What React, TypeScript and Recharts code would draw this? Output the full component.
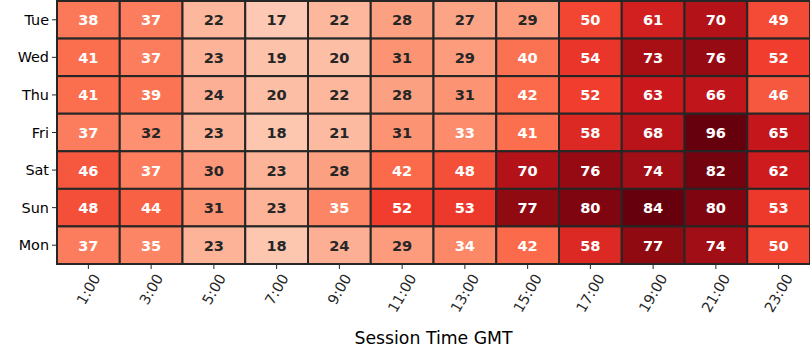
import React from 'react';
import { ScatterChart, Scatter, XAxis, YAxis } from 'recharts';

const days = ['Tue', 'Wed', 'Thu', 'Fri', 'Sat', 'Sun', 'Mon'];
const hours = ['1:00', '3:00', '5:00', '7:00', '9:00', '11:00', '13:00', '15:00', '17:00', '19:00', '21:00', '23:00'];

const tue = [38, 37, 22, 17, 22, 28, 27, 29, 50, 61, 70, 49];
const wed = [41, 37, 23, 19, 20, 31, 29, 40, 54, 73, 76, 52];
const thu = [41, 39, 24, 20, 22, 28, 31, 42, 52, 63, 66, 46];
const fri = [37, 32, 23, 18, 21, 31, 33, 41, 58, 68, 96, 65];
const sat = [46, 37, 30, 23, 28, 42, 48, 70, 76, 74, 82, 62];
const sun = [48, 44, 31, 23, 35, 52, 53, 77, 80, 84, 80, 53];
const mon = [37, 35, 23, 18, 24, 29, 34, 42, 58, 77, 74, 50];
const rows = [tue, wed, thu, fri, sat, sun, mon];

const WIDTH = 810;
const HEIGHT = 360;
const Y_AXIS_W = 57;
const X_AXIS_H = 96;
const TOP = 1;
const PLOT_W = WIDTH - Y_AXIS_W;
const PLOT_H = HEIGHT - X_AXIS_H - TOP;
const CELL_W = PLOT_W / hours.length;
const CELL_H = PLOT_H / days.length;
const FONT = '"DejaVu Sans", sans-serif';
const INK = '#262626';

// matplotlib "Reds"
const reds = ['#fff5f0', '#fee0d2', '#fcbba1', '#fc9272', '#fb6a4a', '#ef3b2c', '#cb181d', '#a50f15', '#67000d'];
const VMAX = 84;

const hex = (h: string) => [1, 3, 5].map((i) => parseInt(h.slice(i, i + 2), 16));

function cellColor(v: number) {
  const t = Math.max(0, Math.min(1, v / VMAX)) * (reds.length - 1);
  const i = Math.min(Math.floor(t), reds.length - 2);
  const f = t - i;
  const a = hex(reds[i]);
  const b = hex(reds[i + 1]);
  const c = a.map((x, k) => Math.round(x + (b[k] - x) * f));
  return `rgb(${c[0]},${c[1]},${c[2]})`;
}

const cells = rows.flatMap((vals, r) =>
  vals.map((value, c) => ({ x: c + 0.5, y: r + 0.5, value }))
);

const renderCell = (props: any) => {
  const { cx, cy, payload } = props;
  const v = payload.value;
  return (
    <g>
      <rect
        x={cx - CELL_W / 2}
        y={cy - CELL_H / 2}
        width={CELL_W}
        height={CELL_H}
        fill={cellColor(v)}
        stroke={INK}
        strokeWidth={2}
      />
      <text
        x={cx}
        y={cy}
        textAnchor="middle"
        dominantBaseline="central"
        fontFamily={FONT}
        fontWeight="bold"
        fontSize={14.6}
        fill={v >= 33 ? '#ffffff' : INK}
      >
        {v}
      </text>
    </g>
  );
};

const HourTick = (props: any) => {
  const { x, y, payload } = props;
  const label = hours[Math.floor(payload.value)];
  const len = [...label].reduce((s, ch) => s + (ch === ':' ? 4.85 : 9.16), 0);
  const h = 0.866 * len + 8.4;
  const cy = y + h / 2;
  return (
    <g transform={`translate(${x},${cy})`}>
      <text
        transform="rotate(-60)"
        textAnchor="middle"
        dominantBaseline="central"
        fontFamily={FONT}
        fontSize={14.4}
        fill={INK}
      >
        {label}
      </text>
    </g>
  );
};

export default function App() {
  return (
    <div style={{ position: 'absolute', left: 0, top: 0, width: WIDTH, height: HEIGHT, background: '#fff' }}>
      <ScatterChart width={WIDTH} height={HEIGHT} margin={{ top: TOP, right: 0, bottom: 0, left: 0 }}>
        <XAxis
          type="number"
          dataKey="x"
          domain={[0, hours.length]}
          ticks={hours.map((_, i) => i + 0.5)}
          height={X_AXIS_H}
          axisLine={false}
          tickSize={5}
          tickLine={{ stroke: INK }}
          tick={<HourTick />}
          interval={0}
          label={{
            value: 'Session Time GMT',
            position: 'insideBottom',
            offset: 16,
            style: { fontFamily: FONT, fontSize: 17.3, fill: '#000' },
          }}
        />
        <YAxis
          type="number"
          dataKey="y"
          domain={[0, days.length]}
          reversed
          ticks={days.map((_, i) => i + 0.5)}
          tickFormatter={(v: number) => days[Math.floor(v)]}
          width={Y_AXIS_W}
          axisLine={false}
          tickSize={5}
          tickMargin={3}
          tickLine={{ stroke: INK }}
          tick={{ fontFamily: FONT, fontSize: 14.4, fill: '#000' }}
          interval={0}
        />
        <Scatter data={cells} shape={renderCell} isAnimationActive={false} />
      </ScatterChart>
    </div>
  );
}
